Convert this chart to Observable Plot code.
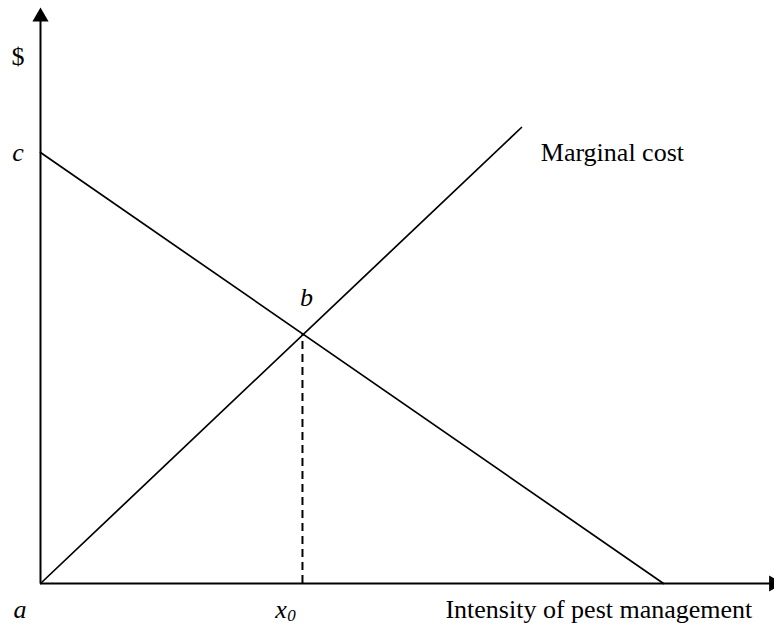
<!DOCTYPE html>
<html>
<head>
<meta charset="utf-8">
<script src="https://cdn.jsdelivr.net/npm/d3@7"></script>
<script src="https://cdn.jsdelivr.net/npm/@observablehq/plot@0.6"></script>
<style>
  html, body { margin: 0; padding: 0; background: #fff; }
  #chart svg { display: block; }
</style>
</head>
<body>
<div id="chart"></div>
<script>
// Curves (arbitrary units: quantity 0–100, dollars 0–100)
const marginalCostX = [0, 77.2];
const marginalCostY = [0, 105.8];
const demandX = [0, 100];
const demandY = [100, 0];
const equilibriumX = [42.05];
const equilibriumY = [58.0];

// Axes extents
const xAxisEnd = 117.7;
const yAxisEnd = 131.5;

// Italic point labels
const italicText = ["c", "b", "a"];
const italicX = [-3.6, 42.7, -3.3];
const italicY = [98.1, 64.3, -7.9];

// Upright labels
const dollarText = ["$"];
const dollarX = [-3.6];
const dollarY = [120.4];

const plainText = ["Marginal cost", "Intensity of pest management"];
const plainX = [80.3, 65.0];
const plainY = [98.1, -7.9];

const x0Label = "x";
const x0Sub = "0";
const x0LabelX = 37.7;
const x0LabelY = -7.9;

const mc = marginalCostX.map((x, i) => ({x, y: marginalCostY[i]}));
const demand = demandX.map((x, i) => ({x, y: demandY[i]}));
const eq = equilibriumX.map((x, i) => ({x, y: equilibriumY[i]}));
const italics = italicText.map((t, i) => ({t, x: italicX[i], y: italicY[i]}));
const dollars = dollarText.map((t, i) => ({t, x: dollarX[i], y: dollarY[i]}));
const plain = plainText.map((t, i) => ({t, x: plainX[i], y: plainY[i]}));

const chart = Plot.plot({
  width: 774,
  height: 625,
  margin: 0,
  style: {fontFamily: "'Liberation Serif', 'Times New Roman', serif", fontSize: "26px", background: "#fff"},
  x: {domain: [0, 100], range: [40, 663], axis: null},
  y: {domain: [0, 100], range: [583, 152], axis: null},
  marks: [
    // axes
    Plot.ruleY([0], {x1: 0, x2: xAxisEnd, stroke: "#000", strokeWidth: 2}),
    Plot.ruleX([0], {y1: 0, y2: yAxisEnd, stroke: "#000", strokeWidth: 2}),
    Plot.dot([{x: xAxisEnd, y: 0}], {x: "x", y: "y", symbol: "triangle", r: 6, fill: "#000", stroke: null, rotate: 90}),
    Plot.dot([{x: 0, y: yAxisEnd}], {x: "x", y: "y", symbol: "triangle", r: 6, fill: "#000", stroke: null}),
    // curves
    Plot.line(demand, {x: "x", y: "y", stroke: "#000", strokeWidth: 1.7}),
    Plot.line(mc, {x: "x", y: "y", stroke: "#000", strokeWidth: 1.7}),
    Plot.ruleX(eq, {x: "x", y1: 0, y2: "y", stroke: "#000", strokeWidth: 2, strokeDasharray: "8,5"}),
    // labels
    Plot.text(italics, {x: "x", y: "y", text: "t", textAnchor: "middle", lineAnchor: "bottom", fontStyle: "italic", fill: "#000"}),
    Plot.text(dollars, {x: "x", y: "y", text: "t", textAnchor: "middle", lineAnchor: "bottom", fill: "#000"}),
    Plot.text(plain, {x: "x", y: "y", text: "t", textAnchor: "start", lineAnchor: "bottom", fill: "#000"}),
    Plot.text([{x: x0LabelX, y: x0LabelY}], {x: "x", y: "y", text: () => x0Label, textAnchor: "start", lineAnchor: "bottom", fontStyle: "italic", fill: "#000"}),
    Plot.text([{x: x0LabelX, y: x0LabelY}], {x: "x", y: "y", text: () => x0Sub, textAnchor: "start", lineAnchor: "bottom", fontStyle: "italic", fontSize: 17, dx: 12, dy: 3, fill: "#000"})
  ]
});
document.getElementById("chart").appendChild(chart);
</script>
</body>
</html>
